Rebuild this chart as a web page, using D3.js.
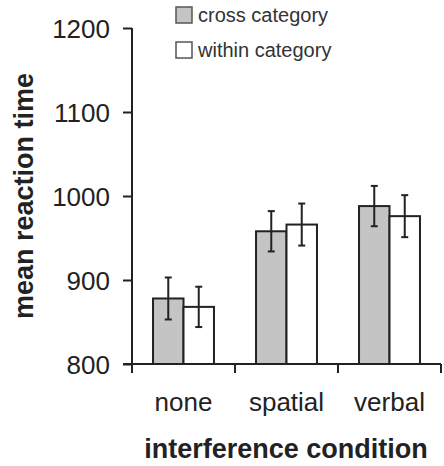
<!DOCTYPE html>
<html><head><meta charset="utf-8">
<script src="https://cdn.jsdelivr.net/npm/d3@7"></script>
<style>body{margin:0;background:#fff}svg{display:block}text{font-family:"Liberation Sans",Arial,sans-serif}</style>
</head><body>
<script>
const categories = ["none", "spatial", "verbal"];
const seriesNames = ["cross category", "within category"];
const crossValues = [878, 958, 988];
const withinValues = [868, 966, 976];
const crossErrors = [25, 24, 24];
const withinErrors = [24, 25, 25];
const yTicks = [800, 900, 1000, 1100, 1200];
const colors = ["#c4c4c4", "#ffffff"];

const W = 444, H = 466;
const svg = d3.select("body").append("svg").attr("width", W).attr("height", H);

const x0 = d3.scaleBand().domain(categories).range([132, 441]).paddingInner(0).paddingOuter(0);
const x1 = d3.scaleBand().domain(seriesNames).range([0, x0.bandwidth()]).paddingInner(0).paddingOuter(0.69);
const y = d3.scaleLinear().domain([800, 1200]).range([364, 28]);

const data = categories.map((c, i) => ({
  cat: c,
  vals: [
    {s: seriesNames[0], v: crossValues[i], e: crossErrors[i], color: colors[0]},
    {s: seriesNames[1], v: withinValues[i], e: withinErrors[i], color: colors[1]}
  ]
}));

const dark = "#222";
const g = svg.append("g");
const groups = g.selectAll("g.cat").data(data).join("g").attr("transform", d => `translate(${x0(d.cat)},0)`);
groups.selectAll("rect").data(d => d.vals).join("rect")
  .attr("x", d => x1(d.s)).attr("width", x1.bandwidth())
  .attr("y", d => y(d.v)).attr("height", d => y(800) - y(d.v))
  .attr("fill", d => d.color).attr("stroke", dark).attr("stroke-width", 2);

const eb = groups.selectAll("g.err").data(d => d.vals).join("g").attr("class", "err")
  .attr("transform", d => `translate(${x1(d.s) + x1.bandwidth() / 2},0)`);
eb.append("line").attr("y1", d => y(d.v + d.e)).attr("y2", d => y(d.v - d.e)).attr("stroke", dark).attr("stroke-width", 2);
eb.append("line").attr("x1", -3.5).attr("x2", 3.5).attr("y1", d => y(d.v + d.e)).attr("y2", d => y(d.v + d.e)).attr("stroke", dark).attr("stroke-width", 2);
eb.append("line").attr("x1", -3.5).attr("x2", 3.5).attr("y1", d => y(d.v - d.e)).attr("y2", d => y(d.v - d.e)).attr("stroke", dark).attr("stroke-width", 2);

// Y axis
const yAxis = d3.axisLeft(y).tickValues(yTicks).tickSize(9).tickPadding(13).tickFormat(d3.format("d"));
const ya = svg.append("g").attr("transform", "translate(132,0)").call(yAxis);
ya.select(".domain").attr("d", "M0,28V373").attr("stroke", dark).attr("stroke-width", 2);
ya.selectAll(".tick line").attr("stroke", dark).attr("stroke-width", 2);
ya.selectAll(".tick text").attr("font-size", 26).attr("fill", "#222").attr("font-family", "Liberation Sans, Arial, sans-serif").attr("dy", "0.36em");

// X axis
const xAxis = d3.axisBottom(x0).tickSize(0).tickPadding(29);
const xa = svg.append("g").attr("transform", "translate(0,364)").call(xAxis);
xa.select(".domain").attr("d", "M123,0H441").attr("stroke", dark).attr("stroke-width", 2);
xa.selectAll(".tick text").attr("font-size", 26).attr("fill", "#222").attr("font-family", "Liberation Sans, Arial, sans-serif");
// boundary ticks between categories
const bounds = categories.map(c => x0(c)).concat([x0.range()[1]]);
xa.selectAll("line.bnd").data(bounds).join("line").attr("class", "bnd")
  .attr("x1", d => d).attr("x2", d => d).attr("y1", 0).attr("y2", 9)
  .attr("stroke", dark).attr("stroke-width", 2);

// axis titles
svg.append("text").attr("x", 286).attr("y", 458).attr("text-anchor", "middle")
  .attr("font-size", 27).attr("font-weight", "bold").attr("fill", "#222").text("interference condition");
svg.append("text").attr("transform", "translate(33,196) rotate(-90)").attr("text-anchor", "middle")
  .attr("font-size", 27).attr("font-weight", "bold").attr("fill", "#222").text("mean reaction time");

// legend
const leg = svg.append("g").selectAll("g").data(seriesNames).join("g")
  .attr("transform", (d, i) => `translate(176,${7 + i * 35})`);
leg.append("rect").attr("width", 16).attr("height", 16)
  .attr("fill", (d, i) => colors[i]).attr("stroke", "#555").attr("stroke-width", 1.5);
leg.append("text").attr("x", 22).attr("y", 15).attr("font-size", 20).attr("fill", "#333").text(d => d);
</script>
</body></html>
